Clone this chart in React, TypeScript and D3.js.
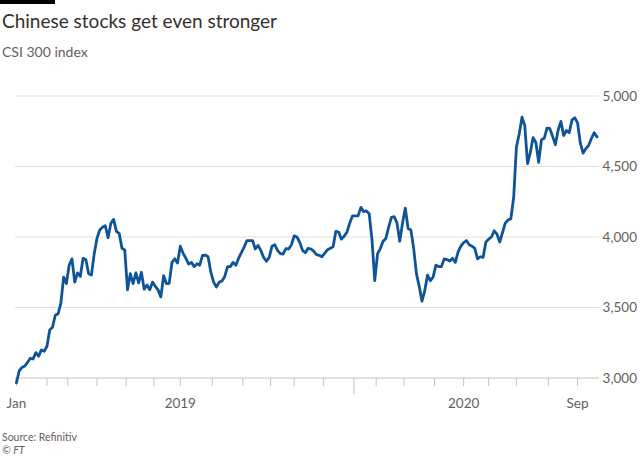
import React from "react";
import * as d3 from "d3";

// CSI 300 closing level, sampled every 2 trading days from 2 Jan 2019
const close: number[] = [
  2965, 3050, 3075, 3085, 3110, 3140, 3135, 3180, 3155, 3199,
  3190, 3225, 3340, 3360, 3445, 3455, 3530, 3715, 3670, 3801,
  3845, 3680, 3745, 3720, 3849, 3840, 3740, 3730, 3880, 3990,
  4050, 4070, 4080, 3995, 4097, 4125, 4040, 4026, 3920, 3908,
  3625, 3740, 3670, 3745, 3675, 3750, 3630, 3660, 3625, 3680,
  3650, 3625, 3575, 3725, 3670, 3671, 3820, 3845, 3815, 3935,
  3884, 3850, 3808, 3820, 3790, 3810, 3800, 3870, 3872, 3860,
  3750, 3680, 3645, 3680, 3688, 3720, 3790, 3790, 3820, 3800,
  3850, 3890, 3930, 3975, 3975, 3975, 3915, 3940, 3905, 3855,
  3828, 3855, 3935, 3945, 3905, 3882, 3878, 3918, 3915, 3945,
  4008, 4000, 3962, 3905, 3888, 3920, 3915, 3900, 3875, 3870,
  3860, 3885, 3910, 3920, 3930, 4040, 4035, 3985, 4005, 4035,
  4100, 4150, 4150, 4150, 4210, 4180, 4185, 4165, 3980, 3690,
  3880, 3918, 3970, 3990, 4070, 4140, 4144, 4100, 3970, 4100,
  4205, 4060, 4050, 3920, 3740, 3650, 3545, 3620, 3730, 3690,
  3715, 3800, 3790, 3790, 3845, 3840, 3830, 3850, 3820, 3895,
  3935, 3960, 3975, 3945, 3935, 3920, 3845, 3860, 3855, 3965,
  3985, 4000, 4044, 4020, 3965, 4032, 4100, 4120, 4130, 4280,
  4640, 4730, 4850, 4790, 4520, 4600, 4705, 4670, 4530, 4690,
  4700, 4772, 4770, 4715, 4655, 4757, 4820, 4720, 4755, 4740,
  4830, 4845, 4810, 4665, 4595, 4627, 4650, 4700, 4740, 4710,
];
const dayStep = 2;

// trading-day index of the first session of each month, Jan 2019 – Sep 2020
const monthStarts: number[] = [
  0, 22, 37, 58, 79, 99, 118, 141, 163, 183, 200, 221,
  243, 259, 279, 301, 322, 340, 360, 383, 404,
];
const yearStartIndex = 243;
const xLabels: string[] = ["Jan", "2019", "2020", "Sep"];
const xLabelDays: number[] = [0, 118, 322, 404];

const yTicks: number[] = [3000, 3500, 4000, 4500, 5000];

const title = "Chinese stocks get even stronger";
const subtitle = "CSI 300 index";
const source = "Source: Refinitiv";
const credit = "© FT";

export default function App() {
  const W = 640;
  const H = 457;
  const lastDay = (close.length - 1) * dayStep;
  const x = d3.scaleLinear().domain([0, lastDay]).range([16.4, 16.4 + lastDay * 1.389]);
  const y = d3.scaleLinear().domain([3000, 5000]).range([378, 96]);
  const line = d3
    .line<number>()
    .x((_, i) => x(i * dayStep))
    .y((d) => y(d));
  const font = "Lato, 'Open Sans', sans-serif";
  const gridX0 = 15;
  const gridX1 = 599;
  return (
    <div style={{ position: "absolute", left: 0, top: 0 }}>
      <svg width={W} height={H} style={{ display: "block", background: "#ffffff" }}>
        <rect x={0} y={0} width={55} height={4} fill="#000000" />
        <text x={2} y={28} fontFamily={font} fontSize={19} fill="#33302e">
          {title}
        </text>
        <text x={2} y={57} fontFamily={font} fontSize={14} fill="#66605c">
          {subtitle}
        </text>
        {yTicks.map((t) => (
          <g key={t}>
            {t !== 3000 && (
              <line x1={gridX0} x2={gridX1} y1={y(t)} y2={y(t)} stroke="#e9ddd2" strokeWidth={1} />
            )}
            <text
              x={637}
              y={y(t)}
              dy="0.35em"
              textAnchor="end"
              fontFamily={font}
              fontSize={13.5}
              fill="#66605c"
            >
              {d3.format(",")(t)}
            </text>
          </g>
        ))}
        <line x1={gridX0} x2={gridX1} y1={y(3000)} y2={y(3000)} stroke="#c9c0b8" strokeWidth={1} />
        {monthStarts.map((m) => (
          <line
            key={m}
            x1={x(m)}
            x2={x(m)}
            y1={y(3000)}
            y2={y(3000) + (m === yearStartIndex ? 16 : 8)}
            stroke="#c9c0b8"
            strokeWidth={1}
          />
        ))}
        {xLabels.map((l, i) => (
          <text
            key={l}
            x={x(xLabelDays[i])}
            y={408}
            textAnchor="middle"
            fontFamily={font}
            fontSize={13.5}
            fill="#66605c"
          >
            {l}
          </text>
        ))}
        <path
          d={line(close) || ""}
          fill="none"
          stroke="#0f5499"
          strokeWidth={2.8}
          strokeLinejoin="round"
          strokeLinecap="round"
        />
        <text x={2} y={441} fontFamily={font} fontSize={10.5} fill="#66605c">
          {source}
        </text>
        <text x={2} y={454} fontFamily={font} fontSize={10.5} fontStyle="italic" fill="#66605c">
          {credit}
        </text>
      </svg>
    </div>
  );
}
